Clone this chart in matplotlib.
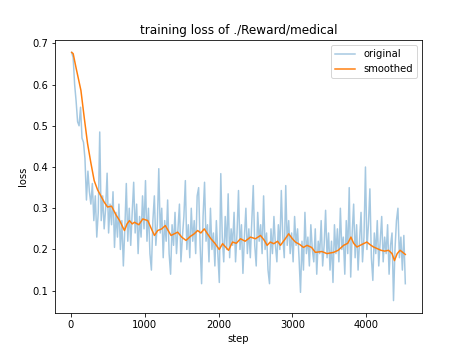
import numpy as np
import matplotlib

matplotlib.use("Agg")
import matplotlib.pyplot as plt


TITLE = "training loss of ./Reward/medical"

# raw loss, logged every 20 steps starting at step 10
steps = np.arange(10, 4531, 20)
original = [
    0.678, 0.665, 0.60, 0.56, 0.51, 0.50, 0.545, 0.47, 0.46, 0.42,
    0.32, 0.39, 0.34, 0.31, 0.36, 0.27, 0.33, 0.23, 0.29, 0.485,
    0.27, 0.33, 0.25, 0.30, 0.385, 0.24, 0.31, 0.26, 0.34, 0.205,
    0.29, 0.23, 0.31, 0.20, 0.27, 0.16, 0.25, 0.36, 0.22, 0.30,
    0.21, 0.29, 0.363, 0.24, 0.31, 0.19, 0.28, 0.23, 0.33, 0.25,
    0.367, 0.22, 0.30, 0.19, 0.15, 0.27, 0.33, 0.21, 0.26, 0.396,
    0.24, 0.30, 0.18, 0.27, 0.22, 0.32, 0.19, 0.14, 0.26, 0.21,
    0.29, 0.19, 0.25, 0.31, 0.17, 0.23, 0.28, 0.367, 0.20, 0.26,
    0.18, 0.30, 0.22, 0.27, 0.19, 0.33, 0.35, 0.21, 0.117, 0.28,
    0.363, 0.22, 0.26, 0.17, 0.30, 0.20, 0.24, 0.16, 0.27, 0.19,
    0.12, 0.384, 0.23, 0.17, 0.28, 0.20, 0.335, 0.18, 0.25, 0.21,
    0.29, 0.17, 0.24, 0.343, 0.20, 0.26, 0.142, 0.23, 0.30, 0.19,
    0.25, 0.18, 0.27, 0.355, 0.21, 0.16, 0.29, 0.22, 0.26, 0.19,
    0.33, 0.20, 0.24, 0.15, 0.117, 0.25, 0.19, 0.28, 0.21, 0.17,
    0.26, 0.20, 0.343, 0.23, 0.18, 0.355, 0.21, 0.27, 0.19, 0.24,
    0.17, 0.28, 0.21, 0.25, 0.18, 0.096, 0.22, 0.15, 0.29, 0.19,
    0.23, 0.16, 0.26, 0.20, 0.17, 0.25, 0.14, 0.22, 0.19, 0.27,
    0.16, 0.21, 0.295, 0.18, 0.24, 0.15, 0.22, 0.12, 0.26, 0.19,
    0.25, 0.17, 0.30, 0.20, 0.23, 0.14, 0.27, 0.19, 0.35, 0.133,
    0.24, 0.31, 0.18, 0.26, 0.15, 0.22, 0.29, 0.17, 0.23, 0.40,
    0.20, 0.26, 0.347, 0.18, 0.125, 0.24, 0.19, 0.27, 0.16, 0.22,
    0.28, 0.17, 0.23, 0.19, 0.26, 0.14, 0.21, 0.24, 0.076, 0.20,
    0.27, 0.30, 0.18, 0.23, 0.15, 0.234, 0.117,
]

smooth_steps = [
    10, 30, 70, 135, 180, 225, 270, 315, 360, 405,
    450, 496, 550, 613, 660, 700, 725, 760, 793, 830,
    860, 920, 973, 1041, 1090, 1131, 1176, 1230, 1279, 1320,
    1356, 1400, 1446, 1500, 1559, 1620, 1670, 1716, 1760, 1806,
    1850, 1896, 1950, 2009, 2054, 2100, 2135, 2189, 2240, 2297,
    2360, 2432, 2500, 2568, 2620, 2658, 2700, 2748, 2800, 2838,
    2900, 2950, 3000, 3041, 3100, 3150, 3198, 3260, 3311, 3400,
    3468, 3559, 3620, 3694, 3750, 3793, 3830, 3874, 3940, 4009,
    4050, 4099, 4150, 4200, 4250, 4302, 4350, 4383, 4420, 4459,
    4495, 4530,
]
smoothed = [
    0.678, 0.675, 0.64, 0.586, 0.52, 0.457, 0.41, 0.367, 0.345, 0.33,
    0.315, 0.303, 0.305, 0.283, 0.27, 0.255, 0.246, 0.262, 0.27, 0.262,
    0.266, 0.26, 0.274, 0.27, 0.25, 0.234, 0.246, 0.25, 0.258, 0.245,
    0.234, 0.238, 0.242, 0.23, 0.222, 0.232, 0.238, 0.246, 0.24, 0.25,
    0.238, 0.226, 0.215, 0.20, 0.214, 0.205, 0.198, 0.218, 0.215, 0.226,
    0.22, 0.23, 0.226, 0.234, 0.222, 0.21, 0.218, 0.214, 0.22, 0.21,
    0.225, 0.238, 0.226, 0.218, 0.212, 0.205, 0.21, 0.205, 0.193, 0.195,
    0.19, 0.193, 0.198, 0.21, 0.215, 0.23, 0.215, 0.206, 0.212, 0.218,
    0.212, 0.206, 0.202, 0.198, 0.196, 0.198, 0.19, 0.173, 0.19, 0.198,
    0.193, 0.188,
]


def main() -> None:
    fig = plt.figure(figsize=(463 / 72, 350 / 72), dpi=72)
    ax = fig.add_axes([55 / 463, 37 / 350, 367 / 463, 273 / 350])
    ax.plot(steps, original, color="#1f77b4", alpha=0.4, label="original")
    ax.plot(smooth_steps, smoothed, color="#ff7f0e", label="smoothed")
    ax.set_title(TITLE)
    ax.set_xlabel("step")
    ax.set_ylabel("loss")
    ax.legend(loc="upper right")
    fig.savefig("out.png", dpi=72)
    plt.close(fig)


if __name__ == "__main__":
    main()
